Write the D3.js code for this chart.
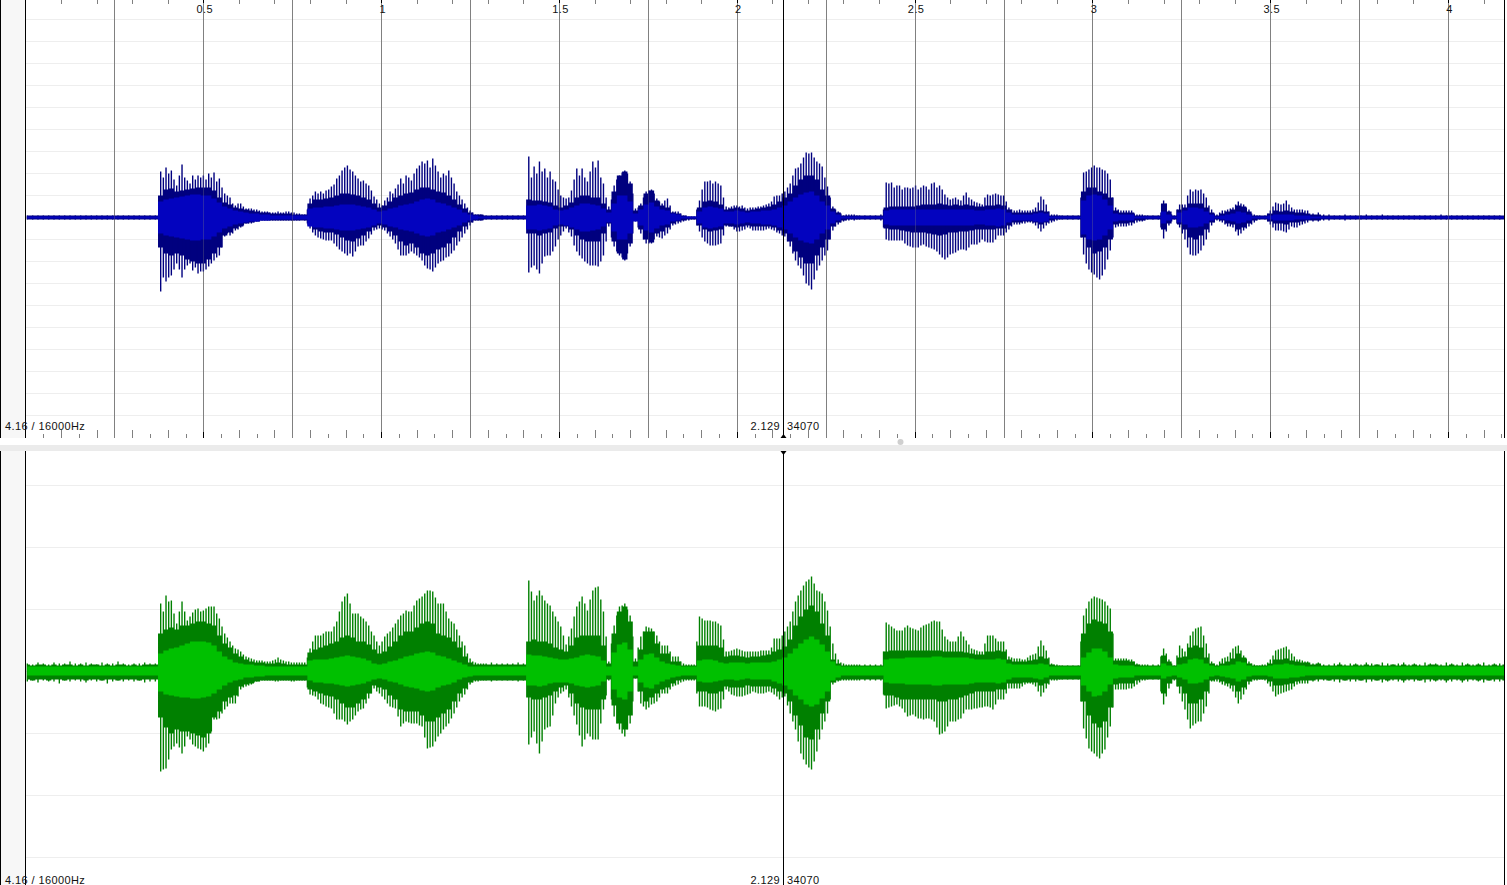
<!DOCTYPE html>
<html><head><meta charset="utf-8">
<script src="https://cdn.jsdelivr.net/npm/d3@7"></script>
<style>html,body{margin:0;padding:0;background:#fff;overflow:hidden}svg{display:block}text{font-family:"Liberation Sans",Arial,sans-serif;font-size:11px;fill:#111;letter-spacing:.4px}</style>
</head><body><div id="c"></div>
<script>
// Seconds between envelope samples and offset of the first sample.
const sampleStep = 0.015, sampleStart = 0.0037, duration = 4.16;
const majorLabels = ["0.5","1","1.5","2","2.5","3","3.5","4"];
const majorTimes = [0.5,1,1.5,2,2.5,3,3.5,4];
const infoLeft = "4.16 / 16000Hz", cursorTime = 2.129, cursorTimeLabel = "2.129", cursorSample = "34070";

// Upper channel (blue): spike peaks, in-between spikes, solid envelope, bright core
const bluePeakTop = [
2,2,2,2,2,2,2,2,2,2, 2,2,2,2,2,2,2,2,2,2,
2,2,2,2,2,46,50,47,32,53, 37,42,42,42,44,45,39,24,20,12,
14,9,9,8,6,6,5,6,5,6, 5,4,3,19,26,26,27,31,39,47,
52,46,39,37,32,21,14,17,26,29, 39,42,37,49,56,57,59,46,44,47,
34,22,14,7,3,3,2,2,2,2, 2,2,2,2,61,51,56,49,46,36,
22,19,27,49,49,36,56,57,34,11, 32,42,47,36,9,14,26,28,19,14,
19,6,6,2,1,1,17,36,37,36, 32,11,11,12,12,9,10,11,12,14,
21,22,26,34,49,54,65,65,56,51, 31,11,6,2,3,3,2,2,2,2,
3,35,35,32,28,30,30,28,32,28, 35,32,23,18,20,17,25,18,15,13,
23,23,23,22,10,7,8,7,7,10, 21,13,3,3,2,2,2,2,45,48,
52,50,47,38,10,7,7,7,3,3, 2,2,2,17,7,2,13,13,28,28,
28,20,8,3,7,8,10,16,13,8, 3,2,2,7,15,13,17,10,8,8,
7,4,5,3,3,2,2,3,2,2, 2,3,2,2,3,2,2,2,2,2,
2,2,2,2,2,3,2,2,2,2, 2,2,2,2,2,2,2,2];
const bluePeakBottom = [
2,2,2,2,2,2,2,2,2,2, 2,2,2,2,2,2,2,2,2,2,
2,2,2,2,2,74,64,58,46,60, 48,53,56,54,49,43,38,19,18,13,
10,6,6,4,3,3,3,3,3,3, 3,3,3,11,18,21,23,23,29,34,
38,39,29,28,21,13,11,13,19,26, 38,38,34,38,43,51,54,46,43,39,
33,24,16,8,3,3,2,2,2,2, 2,2,2,2,55,48,56,39,38,29,
18,11,19,34,41,46,48,49,38,9, 29,38,43,29,4,16,26,26,19,21,
16,8,6,4,3,2,14,24,28,28, 26,9,9,14,13,10,13,13,13,11,
13,16,19,29,43,51,66,72,53,43, 33,13,7,4,3,3,2,2,2,2,
3,22,23,23,23,28,30,30,27,30, 32,37,42,37,35,32,33,27,27,22,
25,25,18,18,12,7,7,6,5,8, 14,8,5,3,2,2,2,2,37,52,
57,62,52,33,10,9,9,8,5,4, 2,2,2,21,8,2,10,22,37,38,
33,22,8,3,5,9,10,18,13,9, 5,2,2,7,13,13,15,9,10,7,
5,4,4,3,3,2,2,3,2,2, 2,2,2,2,2,2,2,2,2,2,
2,2,2,2,2,2,2,2,2,2, 2,2,2,2,2,2,2,2];
const blueMidTop = [
0,0,0,0,0,0,0,0,0,0, 0,0,0,0,0,0,0,0,0,0,
0,0,0,0,0,40,44,38,42,40, 34,38,40,38,40,36,30,22,14,14,
11,9,8,7,6,5,5,5,6,5, 4,3,8,22,24,24,28,33,42,50,
48,42,36,34,27,18,12,20,24,33, 34,40,44,52,54,50,52,40,42,40,
26,18,10,5,3,2,0,0,0,0, 0,0,0,0,40,44,46,40,38,28,
20,20,38,42,40,46,50,40,20,18, 38,45,44,24,10,20,27,24,16,17,
12,6,4,2,1,8,28,36,34,34, 20,10,12,11,10,10,10,11,13,16,
22,24,30,42,50,60,64,60,54,40, 20,8,4,3,3,2,0,0,0,0,
8,34,30,32,30,29,32,30,31,34, 30,28,20,19,18,22,20,16,14,20,
22,24,22,16,8,7,7,7,8,15, 18,6,3,2,0,0,0,20,46,50,
50,48,44,20,8,7,7,4,3,2, 0,0,5,14,3,8,13,22,26,27,
24,12,4,5,7,9,13,14,10,4, 2,0,4,11,14,14,13,8,8,7];
const blueMidBottom = [
0,0,0,0,0,0,0,0,0,0, 0,0,0,0,0,0,0,0,0,0,
0,0,0,0,0,60,60,52,52,52, 46,50,54,52,46,40,30,16,16,12,
8,6,5,4,3,3,3,3,3,3, 3,2,6,15,20,22,23,26,32,36,
36,34,28,24,17,12,12,16,22,32, 38,36,36,40,48,52,50,44,40,36,
28,20,12,5,3,2,0,0,0,0, 0,0,0,0,50,52,46,38,34,22,
14,15,28,38,44,48,48,44,24,20, 34,40,36,16,10,22,26,22,20,18,
12,7,5,3,2,8,20,26,28,27, 18,9,12,14,12,11,13,13,12,12,
15,18,24,36,48,58,68,62,48,38, 22,9,5,3,2,2,0,0,0,0,
10,23,23,23,26,29,30,28,29,31, 34,40,40,36,33,32,30,27,25,24,
25,22,18,15,9,7,6,5,6,11, 11,6,4,2,0,0,0,20,46,55,
60,58,42,20,9,9,8,6,4,3, 0,0,10,14,4,6,16,30,38,36,
28,15,5,4,7,9,14,16,11,7, 3,0,4,10,13,14,12,10,8,6];
const blueBodyTop = [
2,2,2,2,2,2,2,2,2,2, 2,2,2,2,2,2,2,2,2,2,
2,2,2,2,2,22,28,29,26,27, 28,29,30,30,30,27,20,15,13,10,
9,8,7,6,5,5,4,4,4,4, 3,3,3,14,18,18,19,20,22,24,
24,23,22,20,18,14,10,12,16,20, 22,24,25,28,30,30,28,26,25,22,
18,13,9,5,3,3,2,2,2,2, 2,2,2,2,18,17,17,16,15,12,
10,12,15,20,22,22,20,20,14,8, 26,42,46,34,7,12,24,27,17,12,
10,5,4,2,1,1,10,16,17,16, 13,8,9,10,9,7,8,9,10,11,
13,16,20,24,32,38,42,42,38,28, 22,9,5,2,2,2,2,2,2,2,
2,10,11,11,11,11,11,12,13,13, 13,14,13,12,13,12,13,12,11,11,
12,12,13,12,8,5,5,5,5,6, 7,6,2,2,2,2,2,2,26,30,
30,26,24,20,7,5,5,5,2,2, 2,2,2,14,6,2,8,10,14,14,
14,10,5,2,4,6,8,12,11,6, 2,2,2,4,7,6,7,6,5,5,
4,3,3,2,2,2,2,2,2,2, 2,2,2,2,2,2,2,2,2,2,
2,2,2,2,2,2,2,2,2,2, 2,2,2,2,2,2,2,2];
const blueBodyBottom = [
2,2,2,2,2,2,2,2,2,2, 2,2,2,2,2,2,2,2,2,2,
2,2,2,2,2,30,36,38,36,38, 42,44,46,46,42,36,30,18,15,11,
9,6,5,4,3,3,3,3,3,3, 3,3,3,8,12,14,15,15,17,20,
23,24,21,18,14,10,8,10,14,18, 24,28,26,30,36,38,36,32,30,26,
20,14,9,5,3,3,2,2,2,2, 2,2,2,2,16,16,18,16,15,11,
9,9,12,18,22,24,24,24,16,6, 24,36,42,26,3,12,22,25,16,14,
10,6,4,3,2,2,8,12,14,13, 12,8,9,10,9,8,9,9,9,9,
10,13,16,24,34,40,46,46,38,30, 22,9,5,3,2,2,2,2,2,2,
2,11,12,12,13,14,15,15,15,16, 17,18,17,15,15,14,14,13,12,12,
12,12,11,11,8,5,5,4,4,5, 7,5,3,2,2,2,2,2,20,30,
36,34,30,22,7,6,6,5,3,3, 2,2,2,12,6,2,7,12,20,22,
18,12,5,2,3,6,7,12,10,6, 3,2,2,4,6,6,7,5,5,4,
3,3,3,2,2,2,2,2,2,2, 2,2,2,2,2,2,2,2,2,2,
2,2,2,2,2,2,2,2,2,2, 2,2,2,2,2,2,2,2];
const blueCore = [
1,1,1,1,1,1,1,1,1,1, 1,1,1,1,1,1,1,1,1,1,
1,1,1,1,1,16,18,19,20,21, 22,23,23,22,22,19,15,11,9,7,
6,5,4,4,3,3,2,2,2,2, 2,2,2,9,10,10,11,11,12,13,
13,13,12,11,10,8,6,7,9,10, 12,13,14,16,18,19,18,15,14,12,
10,8,5,3,2,1,1,1,1,1, 1,1,1,1,12,12,13,12,11,8,
7,8,10,12,14,14,13,12,9,5, 14,22,22,16,4,8,13,15,11,8,
7,4,3,1,1,1,6,10,11,10, 9,6,6,7,6,5,6,6,7,7,
8,10,12,16,20,23,25,26,22,16, 12,6,3,1,1,1,1,1,1,1,
1,7,8,8,8,8,8,8,8,8, 8,8,8,8,8,8,8,8,7,7,
8,8,9,8,5,3,3,3,3,4, 5,4,1,1,1,1,1,1,17,22,
23,22,18,12,4,3,3,3,1,1, 1,1,1,6,3,1,5,7,10,10,
9,6,3,1,2,3,4,6,5,3, 1,1,1,2,3,3,3,3,2,2,
2,1,1,1,1,1,1,1,1,1, 1,1,1,1,1,1,1,1,1,1,
1,1,1,1,1,1,1,1,1,1, 1,1,1,1,1,1,1,1];

// Lower channel (green)
const greenPeakTop = [
8,7,9,8,7,9,8,8,10,8, 8,9,8,7,9,8,8,10,8,7,
8,8,9,8,8,68,76,71,48,70, 51,59,63,61,65,65,53,38,30,23,
20,15,13,11,11,10,11,14,11,10, 9,9,9,23,36,36,40,40,50,70,
78,58,58,53,46,36,26,35,40,48, 56,61,60,71,75,81,80,68,68,53,
48,36,26,13,9,8,8,9,8,8, 8,8,9,8,91,71,81,71,66,55,
45,27,43,65,75,61,81,85,60,10, 46,65,68,56,13,35,45,43,36,26,
26,15,15,8,7,7,55,51,51,50, 46,20,21,23,21,20,20,20,21,21,
33,33,40,50,70,81,90,95,81,78, 61,28,12,8,7,7,7,7,7,7,
7,49,45,41,41,46,43,41,46,48, 51,50,35,30,30,40,31,23,21,20,
36,36,30,30,15,13,13,12,16,18, 31,21,8,7,6,6,6,6,56,70,
75,73,70,63,13,13,13,12,8,7, 7,7,7,23,12,6,26,20,36,43,
45,28,10,7,13,15,23,26,16,10, 7,6,7,12,21,23,25,18,12,11,
10,8,9,7,7,8,9,7,8,8, 7,9,8,7,9,8,7,8,9,7,
8,7,9,8,8,7,9,8,7,9, 8,7,8,9,7,8,8,9];
const greenPeakBottom = [
10,9,11,9,10,10,12,9,10,9, 10,11,9,10,9,12,10,9,10,9,
10,9,11,10,10,100,97,78,72,82, 65,73,77,80,72,48,47,38,32,32,
18,15,13,10,9,9,9,10,9,9, 10,9,9,23,25,32,35,37,48,48,
53,48,40,37,27,17,22,28,35,37, 55,50,52,52,55,77,75,65,58,52,
42,30,23,13,10,9,9,10,9,9, 9,9,10,9,73,60,82,58,55,32,
22,18,35,53,75,62,68,68,38,9, 45,58,65,52,7,32,38,33,30,22,
22,15,13,10,9,9,35,35,38,40, 37,18,23,25,25,23,20,22,22,20,
23,28,25,42,58,82,93,98,80,58, 42,13,10,9,9,9,9,9,9,9,
9,37,35,33,37,45,43,47,48,47, 50,63,60,50,50,47,38,38,37,36,
35,38,28,28,17,17,17,13,12,15, 25,17,9,9,8,8,8,8,57,77,
82,87,78,55,18,18,18,17,13,9, 8,8,8,33,17,9,22,38,57,52,
50,35,10,10,13,15,20,32,23,13, 9,8,9,15,25,22,20,18,13,12,
12,10,10,9,9,10,11,9,10,10, 9,11,10,9,11,10,9,10,11,9,
10,9,11,10,10,9,11,10,9,11, 10,9,10,11,9,10,10,11];
const greenMidTop = [
0,0,0,0,0,0,0,0,0,0, 0,0,0,0,0,0,0,0,0,0,
0,0,0,0,0,60,70,58,60,60, 55,62,60,63,65,58,45,34,26,22,
17,14,12,11,10,10,12,12,10,9, 9,9,14,30,36,38,40,45,60,75,
68,58,55,50,40,30,30,38,44,52, 58,60,66,73,78,81,74,68,60,50,
42,30,18,10,8,8,0,0,0,0, 0,0,0,0,80,76,76,68,60,50,
36,35,55,70,68,72,84,72,35,28, 56,66,62,35,24,40,44,40,30,26,
20,15,10,7,7,30,53,51,50,48, 32,20,22,22,20,20,20,21,21,24,
33,36,45,60,76,86,92,88,80,70, 45,18,9,7,7,7,0,0,0,0,
20,47,43,41,44,44,42,44,47,50, 50,42,32,30,35,35,27,22,20,28,
36,33,30,22,14,13,12,14,17,25, 26,14,7,6,0,0,0,30,63,73,
74,72,66,38,13,13,12,10,7,7, 0,0,15,18,8,16,23,28,40,44,
36,18,8,10,14,19,25,21,13,8, 6,7,9,16,22,24,22,15,12,10];
const greenMidBottom = [
0,0,0,0,0,0,0,0,0,0, 0,0,0,0,0,0,0,0,0,0,
0,0,0,0,0,98,88,75,76,75, 68,75,78,76,60,48,42,35,32,25,
16,14,11,10,9,9,10,9,9,10, 9,9,16,24,28,33,36,42,48,50,
50,44,38,32,22,20,25,32,36,45, 52,51,52,54,66,76,70,62,55,47,
36,26,18,11,10,9,0,0,0,0, 0,0,0,0,66,72,70,56,44,26,
20,26,44,64,68,65,68,52,24,28, 52,62,58,30,20,35,36,32,26,22,
18,14,11,9,9,22,35,36,39,38, 28,20,24,25,24,22,21,22,21,21,
25,26,34,50,70,88,96,90,68,50, 28,11,9,9,9,9,0,0,0,0,
23,36,34,35,41,44,45,47,47,48, 56,62,55,50,48,42,38,37,36,35,
36,33,28,22,17,17,15,12,13,20, 21,13,9,8,0,0,0,30,67,80,
85,82,66,36,18,18,17,15,11,9, 0,0,20,25,12,15,30,48,54,50,
42,22,10,11,14,17,26,28,18,10, 9,8,12,20,23,21,19,15,12,12];
const greenBodyTop = [
7,6,7,7,6,7,6,7,7,6, 7,6,7,7,6,7,6,7,7,6,
7,6,7,7,7,38,42,44,42,46, 46,48,50,50,48,46,36,28,24,18,
15,12,10,9,9,8,8,9,8,7, 7,7,7,19,22,24,26,28,30,34,
36,34,30,30,27,22,18,20,25,30, 36,40,40,44,48,50,48,38,36,34,
30,24,15,9,7,7,7,7,7,7, 7,7,7,7,30,32,30,30,28,24,
22,20,26,34,36,36,36,36,26,8, 38,60,65,50,10,22,40,40,28,18,
18,10,10,6,6,6,26,26,26,26, 24,15,16,16,15,14,15,15,16,17,
20,22,25,32,46,55,62,66,60,48, 36,12,8,6,6,6,6,6,6,6,
6,20,21,21,21,21,21,21,21,21, 21,21,20,20,20,20,19,18,17,17,
20,20,21,20,12,10,10,10,11,12, 15,13,7,6,6,6,6,6,38,48,
52,50,48,40,11,11,11,10,7,6, 6,6,6,16,10,6,14,15,24,26,
24,14,8,6,8,10,13,18,14,8, 6,6,6,8,12,12,13,11,10,9,
9,7,8,6,6,6,7,6,6,7, 6,7,6,7,6,6,7,6,7,6,
7,6,6,7,7,6,6,7,6,6, 7,6,7,6,6,7,6,7];
const greenBodyBottom = [
8,9,8,8,9,8,8,9,8,8, 8,9,8,8,9,8,8,9,8,8,
8,9,8,8,8,46,56,62,58,60, 60,62,64,66,62,46,40,30,26,24,
15,13,12,10,9,9,9,9,9,9, 9,9,9,18,20,22,24,25,28,32,
36,36,32,28,22,14,16,18,24,28, 38,40,40,40,44,50,50,46,42,38,
30,22,17,11,9,9,9,9,9,9, 9,9,9,9,26,28,28,26,24,20,
16,14,22,32,36,38,38,38,28,8, 34,52,58,44,7,20,30,26,22,18,
16,12,9,8,8,8,20,20,22,22, 20,15,16,16,16,14,15,15,15,15,
17,20,22,30,44,54,66,68,58,42, 30,11,9,8,8,8,8,8,8,8,
8,24,24,26,28,28,28,28,28,28, 28,30,30,28,28,26,24,22,20,20,
20,20,18,18,12,12,12,11,11,11, 14,12,8,8,8,8,8,8,30,44,
52,56,50,36,13,12,12,12,9,8, 8,8,8,22,12,8,15,22,32,32,
28,20,9,8,10,12,14,20,16,10, 8,8,8,10,14,14,13,12,10,9,
9,9,8,8,9,8,8,9,8,8, 9,8,8,9,8,9,8,8,9,8,
8,9,8,8,9,8,9,8,8,9, 8,8,9,8,9,8,8,9];
const greenCoreTop = [
5,5,5,5,5,5,5,5,5,5, 5,5,5,5,5,5,5,5,5,5,
5,5,5,5,5,18,21,23,24,26, 28,30,30,30,29,26,20,15,12,9,
8,7,7,6,6,5,5,5,5,5, 5,5,5,11,12,12,12,13,14,15,
16,15,14,13,11,8,7,8,10,11, 13,15,16,18,19,20,19,16,15,13,
11,9,7,5,5,5,5,5,5,5, 5,5,5,5,17,16,16,15,14,13,
12,12,13,14,16,17,16,15,11,5, 19,27,29,22,5,12,17,18,14,10,
8,7,6,5,5,5,11,12,12,11, 9,8,9,9,9,8,9,9,9,9,
10,12,14,18,23,28,32,35,32,27, 20,10,6,5,5,5,5,5,5,5,
5,12,13,13,13,14,14,14,14,14, 15,15,14,14,14,14,14,13,12,12,
12,12,13,12,8,7,7,7,7,7, 8,7,5,5,5,5,5,5,14,19,
23,23,20,14,7,6,6,6,5,5, 5,5,5,8,6,5,7,8,12,13,
12,8,6,5,6,6,7,10,9,6, 5,5,5,6,7,7,8,7,6,6,
5,5,5,5,5,5,5,5,5,5, 5,5,5,5,5,5,5,5,5,5,
5,5,5,5,5,5,5,5,5,5, 5,5,5,5,5,5,5,5];
const greenCoreBottom = [
4,4,4,4,4,4,4,4,4,4, 4,4,4,4,4,4,4,4,4,4,
4,4,4,4,4,20,23,24,25,26, 26,27,27,26,25,22,18,14,11,9,
8,6,6,5,5,4,4,4,4,4, 4,4,4,9,11,11,12,12,13,14,
15,14,13,12,10,8,7,8,10,11, 13,15,16,17,19,20,19,16,14,13,
11,8,6,5,4,4,4,4,4,4, 4,4,4,4,14,14,15,14,12,11,
11,11,12,14,15,16,15,14,10,4, 18,26,28,20,4,11,16,17,13,10,
8,6,5,4,4,4,10,11,11,10, 9,8,8,9,8,7,8,8,8,8,
10,12,14,18,24,28,33,35,33,27, 20,9,6,4,4,4,4,4,4,4,
4,11,12,12,12,13,13,13,13,13, 14,14,13,13,13,13,13,12,11,11,
11,11,12,11,8,6,6,6,6,7, 8,6,4,4,4,4,4,4,14,20,
25,24,20,13,7,6,6,6,4,4, 4,4,4,7,5,4,6,8,12,12,
11,8,5,4,5,6,7,10,8,5, 4,4,4,5,7,7,7,6,6,5,
4,4,4,4,4,4,4,4,4,4, 4,4,4,4,4,4,4,4,4,4,
4,4,4,4,4,4,4,4,4,4, 4,4,4,4,4,4,4,4];

const W = 1507, H = 885, left = 26, right = 1505.5;
const svg = d3.select("#c").append("svg").attr("width", W).attr("height", H);
const x = d3.scaleLinear().domain([0, duration]).range([left, right]);
const yBlue = d3.scaleLinear().domain([-220, 220]).range([437.5, -2.5]);
const yGreen = d3.scaleLinear().domain([-220, 220]).range([891.5, 451.5]);
const t = i => sampleStart + sampleStep * i;
const crisp = v => Math.round(v - 0.5) + 0.5;

svg.append("defs").append("clipPath").attr("id", "plot").append("rect")
  .attr("x", left).attr("y", 0).attr("width", 1504 - left).attr("height", H);

// panes and chrome
const panes = [{top:0,bottom:438},{top:451,bottom:885}];
panes.forEach(p => {
  svg.append("rect").attr("x",1).attr("y",p.top).attr("width",24).attr("height",p.bottom-p.top).attr("fill","#f7f7f7");
  [0.5,25.5].forEach(v => svg.append("line").attr("x1",v).attr("x2",v).attr("y1",p.top).attr("y2",p.bottom).attr("stroke","#000"));
  svg.append("line").attr("x1",1504.5).attr("x2",1504.5).attr("y1",p.top).attr("y2",p.bottom).attr("stroke","#000");
});
svg.append("rect").attr("x",0).attr("y",445).attr("width",W).attr("height",6).attr("fill","#ebebeb");
svg.append("circle").attr("cx",900.5).attr("cy",442).attr("r",3).attr("fill","#cfcfcf");

// horizontal grid
const grid = (y, vals) => svg.append("g").selectAll("line").data(vals).join("line")
  .attr("x1",left).attr("x2",1504).attr("y1",d=>crisp(y(d))).attr("y2",d=>crisp(y(d))).attr("stroke","#eeeeee");
grid(yBlue, d3.range(-198,199,22));
grid(yGreen, d3.range(-186,187,62));

// vertical time lines in the upper pane
const quarters = d3.range(0.25, duration, 0.25);
const vlines = svg.append("g");
vlines.selectAll("line").data(quarters).join("line")
  .attr("x1",d=>crisp(x(d))).attr("x2",d=>crisp(x(d))).attr("y1",0).attr("y2",438).attr("stroke","#808080");

// ticks
const tenths = d3.range(0.1, duration, 0.1).filter(d => Math.abs(d*4 - Math.round(d*4)) > 1e-6);
const twentieths = d3.range(0.05, duration, 0.1);
const tg = svg.append("g").attr("stroke","#808080");
tg.selectAll(".a").data(tenths).join("line").attr("class","a")
  .attr("x1",d=>crisp(x(d))).attr("x2",d=>crisp(x(d))).attr("y1",0).attr("y2",4);
tg.selectAll(".b").data(tenths).join("line").attr("class","b")
  .attr("x1",d=>crisp(x(d))).attr("x2",d=>crisp(x(d))).attr("y1",430).attr("y2",438);
tg.selectAll(".c").data(twentieths).join("line").attr("class","c")
  .attr("x1",d=>crisp(x(d))).attr("x2",d=>crisp(x(d))).attr("y1",434).attr("y2",438);
const mg = svg.append("g").attr("stroke","#000");
mg.selectAll(".a").data(majorTimes).join("line").attr("class","a")
  .attr("x1",d=>crisp(x(d))).attr("x2",d=>crisp(x(d))).attr("y1",0).attr("y2",3);
mg.selectAll(".b").data(majorTimes).join("line").attr("class","b")
  .attr("x1",d=>crisp(x(d))).attr("x2",d=>crisp(x(d))).attr("y1",432).attr("y2",438);

// waveform channel
function channel(y, peakTop, peakBottom, midTop, midBottom, bodyTop, bodyBottom, coreTop, coreBottom, dark, bright) {
  const g = svg.append("g").attr("clip-path","url(#plot)");
  const band = (top, bottom, fill) => {
    const idx = d3.range(top.length);
    g.append("path").datum(idx).attr("fill",fill)
      .attr("d", d3.area().curve(d3.curveStep).x(i=>x(t(i))).y0(i=>y(-bottom[i])).y1(i=>y(top[i])));
  };
  const spikes = (top, bottom, shift) => g.append("g").attr("stroke",dark).attr("stroke-width",1.4)
    .selectAll("line").data(d3.range(top.length)).join("line")
    .attr("x1",i=>x(t(i+shift))).attr("x2",i=>x(t(i+shift))).attr("y1",i=>y(top[i])).attr("y2",i=>y(-bottom[i]));
  band(bodyTop, bodyBottom, dark);
  spikes(peakTop, peakBottom, 0);
  spikes(midTop, midBottom, 0.5);
  band(coreTop, coreBottom, bright);
}
channel(yBlue, bluePeakTop, bluePeakBottom, blueMidTop, blueMidBottom, blueBodyTop, blueBodyBottom, blueCore, blueCore, "#00007f", "#0303bf");
channel(yGreen, greenPeakTop, greenPeakBottom, greenMidTop, greenMidBottom, greenBodyTop, greenBodyBottom, greenCoreTop, greenCoreBottom, "#008000", "#00c000");

// faint time lines over the blue waveform
svg.append("g").selectAll("line").data(quarters).join("line")
  .attr("x1",d=>crisp(x(d))).attr("x2",d=>crisp(x(d))).attr("y1",150).attr("y2",290)
  .attr("stroke","#808080").attr("stroke-opacity",0.3);

// cursor
const cx = crisp(x(cursorTime));
panes.forEach(p => svg.append("line").attr("x1",cx).attr("x2",cx).attr("y1",p.top).attr("y2",p.bottom).attr("stroke","#000"));
svg.append("path").attr("d",`M${cx-3},438L${cx+3},438L${cx},434Z`).attr("fill","#000");
svg.append("path").attr("d",`M${cx-3},451L${cx+3},451L${cx},455Z`).attr("fill","#000");

// labels
svg.append("g").selectAll("text").data(majorLabels).join("text")
  .attr("x",(d,i)=>x(majorTimes[i])+1).attr("y",13).attr("text-anchor","middle").text(d=>d);
[430,884].forEach(b => {
  svg.append("text").attr("x",5).attr("y",b).text(infoLeft);
  svg.append("text").attr("x",cx-3.5).attr("y",b).attr("text-anchor","end").text(cursorTimeLabel);
  svg.append("text").attr("x",cx+3.5).attr("y",b).text(cursorSample);
});
</script></body></html>
